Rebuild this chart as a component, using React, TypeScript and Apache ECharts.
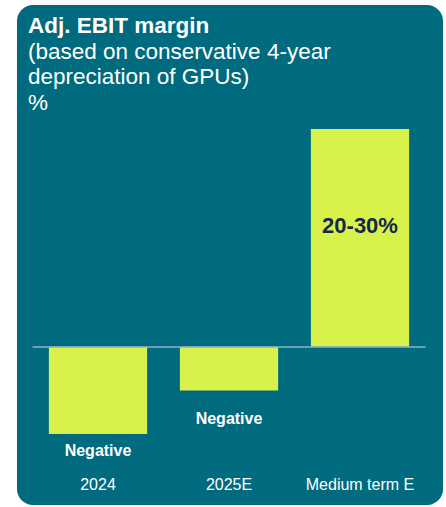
import React, { useEffect, useRef } from "react";
import * as echarts from "echarts";

const categories = ["2024", "2025E", "Medium term E"];
const values = [-10, -5, 25];
const labelTexts = ["Negative", "Negative", "20-30%"];
const titleLines = [
  "Adj. EBIT margin",
  "(based on conservative 4-year",
  "depreciation of GPUs)",
  "%",
];

const TEAL = "#006A7E";
const LIME = "#D9F24B";
const FONT = "Liberation Sans, Arial, sans-serif";

export default function App() {
  const ref = useRef<HTMLDivElement>(null);
  useEffect(() => {
    if (!ref.current) return;
    const chart = echarts.init(ref.current, undefined, { renderer: "svg" });
    const data = values.map((v, i) => {
      const neg = v < 0;
      return {
        value: v,
        label: neg
          ? {
              show: true,
              position: "bottom",
              distance: i === 0 ? 8 : 20,
              color: "#FFFFFF",
              fontWeight: "bold",
              fontSize: 16,
              fontFamily: FONT,
              formatter: () => labelTexts[i],
            }
          : {
              show: true,
              position: "inside",
              offset: [0, -12],
              color: "#14284A",
              fontWeight: "bold",
              fontSize: 22,
              fontFamily: FONT,
              formatter: () => labelTexts[i],
            },
      };
    });
    chart.setOption({
      animation: false,
      backgroundColor: "#FFFFFF",
      graphic: [
        {
          type: "rect",
          z: -10,
          shape: { x: 17, y: 5, width: 426, height: 500, r: 16 },
          style: { fill: TEAL },
        },
        ...titleLines.map((t, i) => ({
          type: "text",
          z: 10,
          left: 28,
          top: 14 + i * 25.5,
          style: {
            text: t,
            fill: "#FFFFFF",
            font: `${i === 0 ? "bold " : ""}22.5px ${FONT}`,
          },
        })),
      ],
      grid: { left: 32.5, right: 20.5, top: 129, bottom: 73, containLabel: false },
      xAxis: {
        type: "category",
        data: categories,
        axisLine: { show: false, onZero: false },
        axisTick: { show: false },
        axisLabel: {
          interval: 0,
          color: "#FFFFFF",
          fontSize: 16,
          fontFamily: FONT,
          margin: 42,
        },
      },
      yAxis: {
        type: "value",
        min: -10,
        max: 25,
        show: false,
        splitLine: { show: false },
      },
      series: [
        {
          type: "bar",
          data,
          barCategoryGap: "25%",
          itemStyle: { color: LIME },
          markLine: {
            silent: true,
            symbol: "none",
            label: { show: false },
            lineStyle: { color: "#8DB5C6", width: 1.5, type: "solid" },
            data: [{ yAxis: 0 }],
            z: 5,
          },
        },
      ],
    });
    return () => chart.dispose();
  }, []);
  return (
    <div
      ref={ref}
      style={{ position: "fixed", left: 0, top: 0, width: 446, height: 507 }}
    />
  );
}
